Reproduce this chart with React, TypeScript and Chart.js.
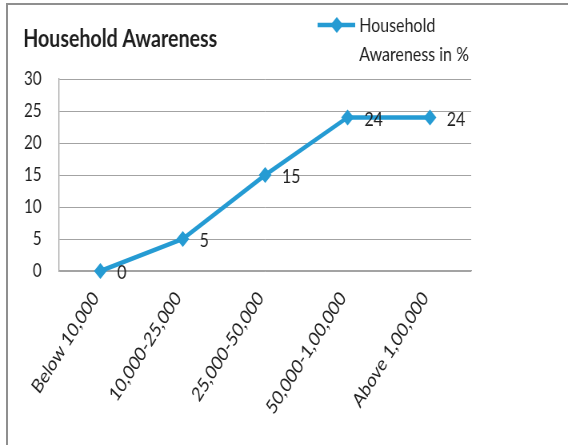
import React, { useEffect, useRef } from "react";
import { Chart, registerables } from "chart.js";

Chart.register(...registerables);

const categories = ["Below 10,000", "10,000-25,000", "25,000-50,000", "50,000-1,00,000", "Above 1,00,000"];
const awareness = [0, 5, 15, 24, 24];
const seriesLabel = ["Household", "Awareness in %"];
const chartTitle = "Household Awareness";
const yMin = 0;
const yMax = 30;
const yStep = 5;

const SQUISH = 0.8;
const W = Math.round(568 / SQUISH);
const H = 445;
const LINE = "#259bd3";
const GRID = "#a3a3a3";
const TEXT = "#1e1e1e";
const FONT = "Lato, 'Noto Sans', sans-serif";

const decor = {
  id: "decor",
  afterDatasetsDraw(chart: any) {
    const ctx = chart.ctx;
    const meta = chart.getDatasetMeta(0);
    ctx.save();
    ctx.fillStyle = TEXT;
    ctx.font = `20px ${FONT}`;
    ctx.textAlign = "left";
    ctx.textBaseline = "middle";
    meta.data.forEach((el: any, i: number) => {
      ctx.fillText(String(chart.data.datasets[0].data[i]), el.x + 21, el.y + 2);
    });
    ctx.restore();
  },
  afterDraw(chart: any) {
    const ctx = chart.ctx;
    ctx.save();
    // title
    ctx.fillStyle = TEXT;
    ctx.font = `bold 24.5px ${FONT}`;
    ctx.textAlign = "left";
    ctx.textBaseline = "alphabetic";
    ctx.fillText(chartTitle, 29, 47);
    // legend
    const ly = 25;
    ctx.strokeStyle = LINE;
    ctx.lineWidth = 4.5;
    ctx.beginPath();
    ctx.moveTo(397, ly);
    ctx.lineTo(444, ly);
    ctx.stroke();
    ctx.fillStyle = LINE;
    ctx.beginPath();
    ctx.moveTo(421, ly - 8);
    ctx.lineTo(429, ly);
    ctx.lineTo(421, ly + 8);
    ctx.lineTo(413, ly);
    ctx.closePath();
    ctx.fill();
    ctx.fillStyle = TEXT;
    ctx.font = `20px ${FONT}`;
    ctx.fillText(seriesLabel[0], 449, 32);
    ctx.fillText(seriesLabel[1], 449, 61);
    ctx.restore();
  },
};

export default function App() {
  const ref = useRef<HTMLCanvasElement | null>(null);
  useEffect(() => {
    if (!ref.current) return;
    const chart = new Chart(ref.current, {
      type: "line",
      data: {
        labels: categories,
        datasets: [
          {
            label: seriesLabel.join(" "),
            data: awareness,
            borderColor: LINE,
            backgroundColor: LINE,
            borderWidth: 4.5,
            pointStyle: "rectRot",
            pointRadius: 8,
            pointBorderWidth: 0,
            pointBackgroundColor: LINE,
            tension: 0,
            clip: false,
          },
        ],
      },
      options: {
        animation: false,
        responsive: false,
        devicePixelRatio: 1,
        layout: { padding: { top: 79, right: W - 589, left: 0, bottom: 0 } },
        plugins: { legend: { display: false }, title: { display: false }, tooltip: { enabled: false } },
        scales: {
          x: {
            offset: true,
            grid: { display: false, drawTicks: false },
            border: { display: true, color: GRID, width: 1.3 },
            ticks: {
              color: TEXT,
              font: { family: FONT, size: 20 },
              maxRotation: 52,
              minRotation: 52,
              padding: 16,
              labelOffset: -6,
              autoSkip: false,
            },
            afterFit(s: any) {
              s.height = H - 271;
            },
          },
          y: {
            min: yMin,
            max: yMax,
            grid: { color: GRID, drawTicks: false, lineWidth: 1 },
            border: { display: true, color: GRID, width: 1.3 },
            ticks: {
              stepSize: yStep,
              color: TEXT,
              font: { family: FONT, size: 19 },
              padding: 22,
            },
            afterFit(s: any) {
              s.width = 74;
            },
          },
        },
      },
      plugins: [decor],
    });
    return () => chart.destroy();
  }, []);
  return (
    <div style={{ position: "fixed", left: 0, top: 0, width: 568, height: 445, overflow: "hidden", background: "#fff" }}>
      <div
        style={{
          position: "absolute",
          left: 6,
          top: 3,
          width: 570,
          height: 450,
          borderLeft: "2px solid #8f8f8f",
          borderTop: "2px solid #8f8f8f",
        }}
      />
      <div style={{ position: "absolute", left: 0, top: 0, width: W, height: H, transform: `scaleX(${SQUISH})`, transformOrigin: "0 0" }}>
        <canvas ref={ref} width={W} height={H} style={{ width: W, height: H, display: "block" }} />
      </div>
    </div>
  );
}
